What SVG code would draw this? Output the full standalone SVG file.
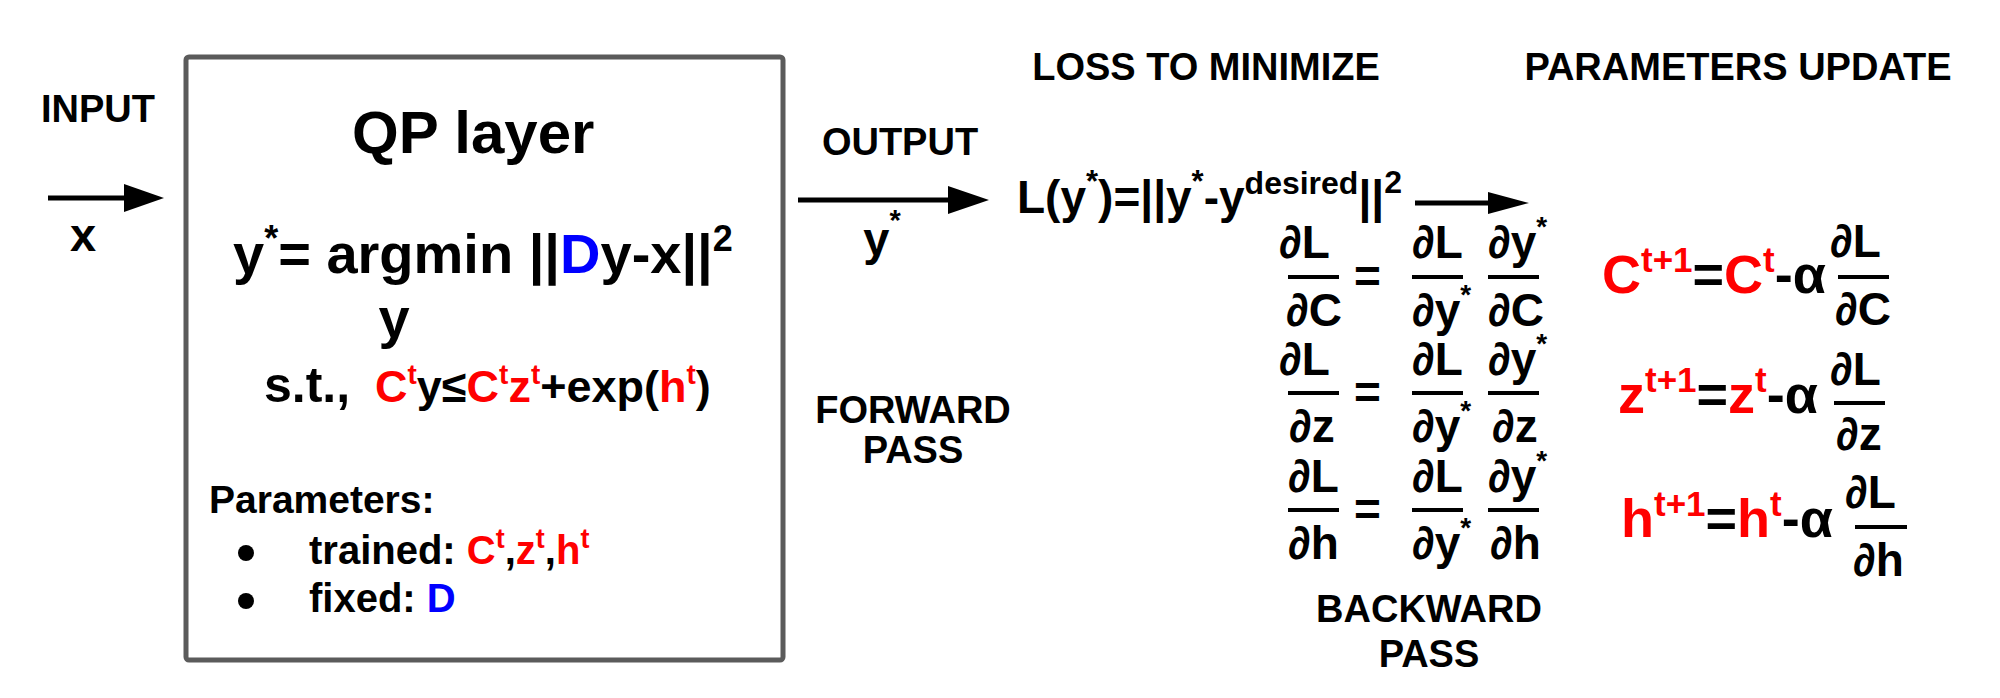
<svg xmlns="http://www.w3.org/2000/svg" width="2000" height="698" viewBox="0 0 2000 698">
<style>
text{font-family:"Liberation Sans",Arial,sans-serif;font-weight:bold;fill:#000}
.lbl{font-size:38px;text-anchor:middle}
.r{fill:#ff0000}
.b{fill:#0000ff}
.fr{font-size:46px}
.bar{stroke:#000;stroke-width:4}
.ln{stroke:#000;stroke-width:5;fill:none}
</style>
<rect width="2000" height="698" fill="#fff"/>
<g id="qp-layer">
<rect x="186" y="57" width="597" height="603" rx="3" fill="#fff" stroke="#5b5b5b" stroke-width="5"/>
<text x="352" y="153" font-size="60">QP layer</text>
<text x="233" y="273" font-size="56">y<tspan font-size="36" dy="-22">*</tspan><tspan dy="22">= argmin ||</tspan><tspan class="b">D</tspan>y-x||<tspan font-size="36" dy="-22">2</tspan></text>
<text x="394" y="337" font-size="56" text-anchor="middle">y</text>
<text x="264" y="402" font-size="50">s.t.,<tspan x="375" font-size="45" class="r">C</tspan><tspan class="r" font-size="28" dy="-18">t</tspan><tspan font-size="45" dy="18">y≤</tspan><tspan font-size="45" class="r">C</tspan><tspan class="r" font-size="28" dy="-18">t</tspan><tspan font-size="45" class="r" dy="18">z</tspan><tspan class="r" font-size="28" dy="-18">t</tspan><tspan font-size="45" dy="18">+exp(</tspan><tspan font-size="45" class="r">h</tspan><tspan class="r" font-size="28" dy="-18">t</tspan><tspan font-size="45" dy="18">)</tspan></text>
<text x="209" y="513" font-size="39">Parameters:</text>
<circle cx="246" cy="553" r="8"/>
<circle cx="246" cy="601" r="8"/>
<text x="309" y="564" font-size="40">trained: <tspan class="r">C</tspan><tspan class="r" font-size="27" dy="-16">t</tspan><tspan dy="16">,</tspan><tspan class="r">z</tspan><tspan class="r" font-size="27" dy="-16">t</tspan><tspan dy="16">,</tspan><tspan class="r">h</tspan><tspan class="r" font-size="27" dy="-16">t</tspan></text>
<text x="309" y="612" font-size="40">fixed: <tspan class="b">D</tspan></text>
</g>
<g id="input">
<text class="lbl" x="98" y="122">INPUT</text>
<text x="83" y="251" font-size="47" text-anchor="middle">x</text>
</g>
<g id="output">
<text class="lbl" x="900" y="155">OUTPUT</text>
<text x="882" y="255" font-size="47" text-anchor="middle">y<tspan font-size="29" dy="-25">*</tspan></text>
</g>
<g id="forward-pass">
<text class="lbl" x="913" y="423">FORWARD</text>
<text class="lbl" x="913" y="463">PASS</text>
</g>
<g id="loss">
<text class="lbl" x="1206" y="80">LOSS TO MINIMIZE</text>
<text x="1017" y="213" font-size="46">L(y<tspan font-size="31" dy="-21">*</tspan><tspan dy="21">)=||y</tspan><tspan font-size="31" dy="-21">*</tspan><tspan dy="21">-y</tspan><tspan font-size="32" dy="-19">desired</tspan><tspan dy="19">||</tspan><tspan font-size="32" dy="-20">2</tspan></text>
</g>
<g id="backward-pass">
<text x="1279" y="258" class="fr">∂L</text>
<text x="1286" y="326" class="fr">∂C</text>
<text x="1354" y="292" class="fr">=</text>
<text x="1412" y="258" class="fr">∂L</text>
<text x="1412" y="326" class="fr">∂y<tspan font-size="28" dy="-22">*</tspan></text>
<text x="1488" y="258" class="fr">∂y<tspan font-size="28" dy="-22">*</tspan></text>
<text x="1488" y="326" class="fr">∂C</text>
<text x="1279" y="375" class="fr">∂L</text>
<text x="1289" y="442" class="fr">∂z</text>
<text x="1354" y="408" class="fr">=</text>
<text x="1412" y="375" class="fr">∂L</text>
<text x="1412" y="442" class="fr">∂y<tspan font-size="28" dy="-22">*</tspan></text>
<text x="1488" y="375" class="fr">∂y<tspan font-size="28" dy="-22">*</tspan></text>
<text x="1492" y="442" class="fr">∂z</text>
<text x="1288" y="492" class="fr">∂L</text>
<text x="1288" y="559" class="fr">∂h</text>
<text x="1354" y="525" class="fr">=</text>
<text x="1412" y="492" class="fr">∂L</text>
<text x="1412" y="559" class="fr">∂y<tspan font-size="28" dy="-22">*</tspan></text>
<text x="1488" y="492" class="fr">∂y<tspan font-size="28" dy="-22">*</tspan></text>
<text x="1490" y="559" class="fr">∂h</text>
<line class="bar" x1="1288" y1="277" x2="1339" y2="277"/>
<line class="bar" x1="1412" y1="277" x2="1463" y2="277"/>
<line class="bar" x1="1488" y1="277" x2="1539" y2="277"/>
<line class="bar" x1="1288" y1="393" x2="1339" y2="393"/>
<line class="bar" x1="1412" y1="393" x2="1463" y2="393"/>
<line class="bar" x1="1488" y1="393" x2="1539" y2="393"/>
<line class="bar" x1="1288" y1="510" x2="1339" y2="510"/>
<line class="bar" x1="1412" y1="510" x2="1463" y2="510"/>
<line class="bar" x1="1488" y1="510" x2="1539" y2="510"/>
<text class="lbl" x="1429" y="622">BACKWARD</text>
<text class="lbl" x="1429" y="667">PASS</text>
</g>
<g id="parameters-update">
<text class="lbl" x="1738" y="80">PARAMETERS UPDATE</text>
<text x="1602" y="293" font-size="54"><tspan class="r">C</tspan><tspan class="r" font-size="35" dy="-21">t+1</tspan><tspan dy="21">=</tspan><tspan class="r">C</tspan><tspan class="r" font-size="35" dy="-21">t</tspan><tspan dy="21">-α</tspan></text>
<text x="1830" y="257" class="fr">∂L</text>
<text x="1835" y="325" class="fr">∂C</text>
<line class="bar" x1="1838" y1="277" x2="1889" y2="277"/>
<text x="1618" y="413" font-size="54"><tspan class="r">z</tspan><tspan class="r" font-size="35" dy="-21">t+1</tspan><tspan dy="21">=</tspan><tspan class="r">z</tspan><tspan class="r" font-size="35" dy="-21">t</tspan><tspan dy="21">-α</tspan></text>
<text x="1830" y="385" class="fr">∂L</text>
<text x="1836" y="450" class="fr">∂z</text>
<line class="bar" x1="1834" y1="403" x2="1885" y2="403"/>
<text x="1621" y="537" font-size="54"><tspan class="r">h</tspan><tspan class="r" font-size="35" dy="-21">t+1</tspan><tspan dy="21">=</tspan><tspan class="r">h</tspan><tspan class="r" font-size="35" dy="-21">t</tspan><tspan dy="21">-α</tspan></text>
<text x="1845" y="508" class="fr">∂L</text>
<text x="1853" y="576" class="fr">∂h</text>
<line class="bar" x1="1855" y1="527" x2="1907" y2="527"/>
</g>
<g id="connectors">
<line class="ln" x1="48" y1="198" x2="126" y2="198"/>
<polygon points="124,184 164,198 124,212"/>
<line class="ln" x1="798" y1="200" x2="950" y2="200"/>
<polygon points="948,186 989,200 948,214"/>
<line class="ln" x1="1415" y1="203" x2="1490" y2="203"/>
<polygon points="1488,192 1529,203 1488,214"/>
</g>
</svg>
